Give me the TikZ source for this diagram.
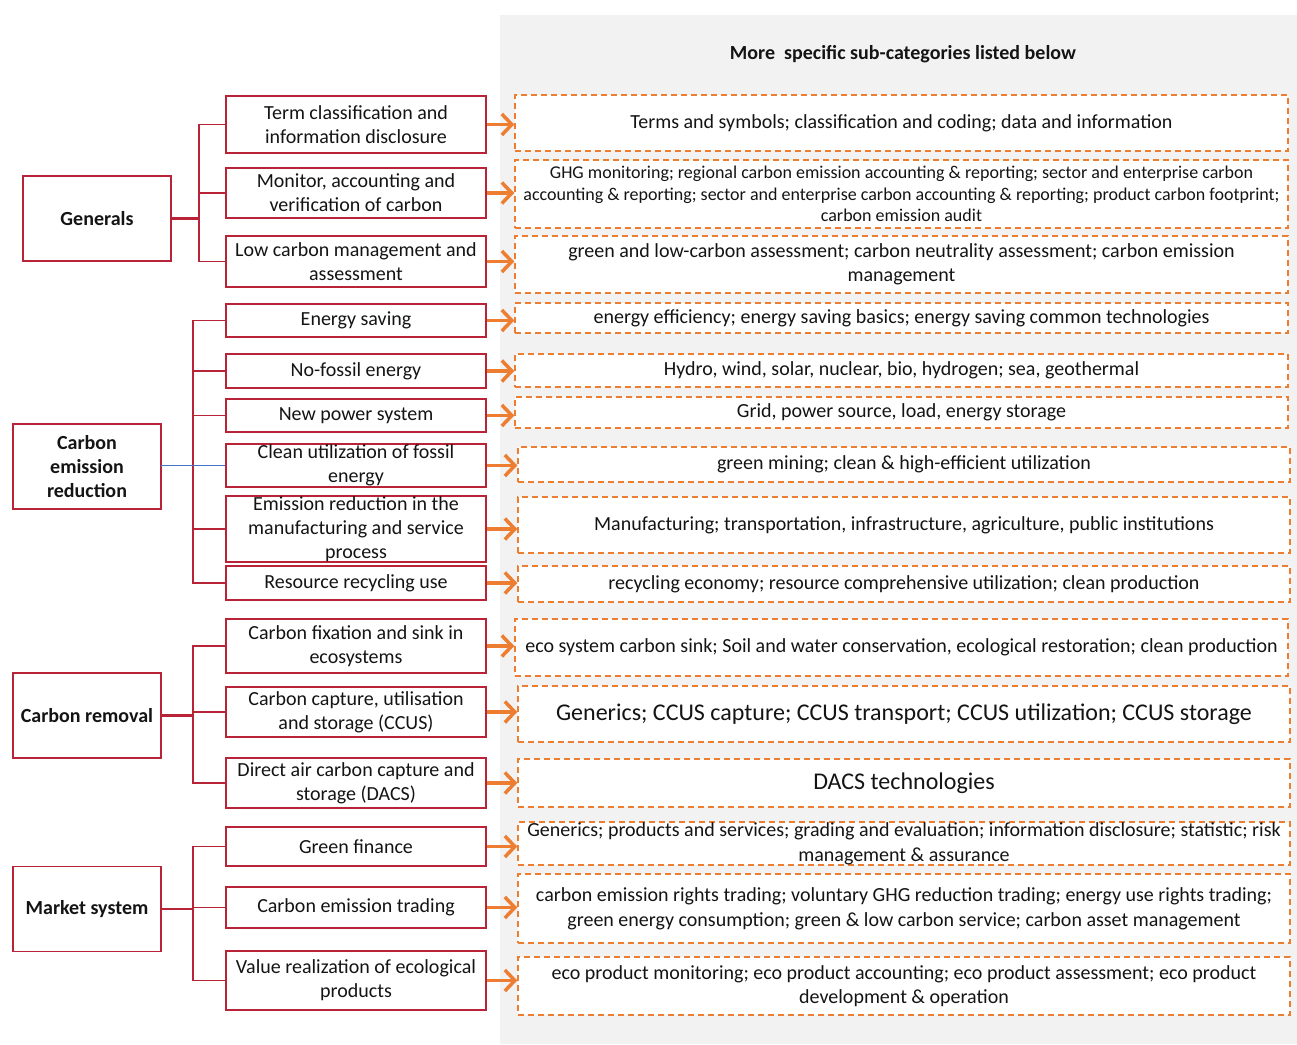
\documentclass[tikz,border=0pt]{standalone}
\usepackage{fontspec}
\setmainfont{Carlito}
\usetikzlibrary{arrows.meta}
\definecolor{boxred}{RGB}{185,35,55}
\definecolor{orng}{RGB}{237,125,49}
\definecolor{bluel}{RGB}{68,114,196}
\definecolor{panel}{RGB}{242,242,242}
\definecolor{txt}{RGB}{20,20,20}
\tikzset{
  mid/.style={draw=boxred, line width=1.6pt, fill=white, align=center, text=txt,
    minimum width=260pt, inner sep=0pt, font=\fontsize{20}{24}\selectfont},
  grp/.style={draw=boxred, line width=1.6pt, fill=white, align=center, text=txt,
    minimum width=148pt, minimum height=85pt, inner sep=0pt, font=\bfseries\fontsize{20}{24}\selectfont},
  sub/.style={draw=orng, dash pattern=on 6pt off 4pt, line width=1.5pt, fill=white,
    align=center, text=txt, inner sep=0pt, font=\fontsize{20}{24.5}\selectfont},
  arr/.style={draw=orng, line width=3.5pt, -{Straight Barb[length=10pt,width=21pt]}},
  link/.style={draw=boxred, line width=1.6pt},
}
\begin{document}
\begin{tikzpicture}[x=1pt,y=-1pt]
\useasboundingbox (0,0) rectangle (1297,1044);
\fill[white] (0,0) rectangle (1297,1044);
\fill[panel] (500,15) rectangle (1297,1044);
\node[font=\bfseries\fontsize{20}{24}\selectfont, text=txt] (hdr) at (903,54) {More\ \ specific sub-categories listed below};

% group boxes
\node[grp] (g1) at (97,218.5) {Generals};
\node[grp] (g2) at (87,466.5) {Carbon\\emission\\reduction};
\node[grp] (g3) at (87,715.5) {Carbon removal};
\node[grp] (g4) at (87,909) {Market system};

% middle boxes
\node[mid, minimum height=57pt] (m1) at (356,124.5) {Term classification and\\information disclosure};
\node[mid, minimum height=50pt] (m2) at (356,193) {Monitor, accounting and\\verification of carbon};
\node[mid, minimum height=51pt] (m3) at (356,261.5) {Low carbon management and\\assessment};
\node[mid, minimum height=33pt] (m4) at (356,320.5) {Energy saving};
\node[mid, minimum height=34pt] (m5) at (356,371) {No-fossil energy};
\node[mid, minimum height=33pt] (m6) at (356,415.5) {New power system};
\node[mid, minimum height=43pt] (m7) at (356,465.5) {Clean utilization of fossil\\energy};
\node[mid, minimum height=66pt] (m8) at (356,529) {Emission reduction in the\\manufacturing and service\\process};
\node[mid, minimum height=34pt] (m9) at (356,583) {Resource recycling use};
\node[mid, minimum height=54pt] (m10) at (356,646) {Carbon fixation and sink in\\ecosystems};
\node[mid, minimum height=50pt] (m11) at (356,712) {Carbon capture, utilisation\\and storage (CCUS)};
\node[mid, minimum height=50pt] (m12) at (356,783) {Direct air carbon capture and\\storage (DACS)};
\node[mid, minimum height=39pt] (m13) at (356,846.5) {Green finance};
\node[mid, minimum height=41pt] (m14) at (356,907.5) {Carbon emission trading};
\node[mid, minimum height=59pt] (m15) at (356,980.5) {Value realization of ecological\\products};

% right boxes
\node[sub, minimum width=773pt, minimum height=56pt] (r1) at (901.5,123) {Terms and symbols; classification and coding; data and information};
\node[sub, minimum width=773pt, minimum height=68pt, font=\fontsize{18}{21.5}\selectfont] (r2) at (901.5,194) {GHG monitoring; regional carbon emission accounting \& reporting; sector and enterprise carbon\\accounting \& reporting; sector and enterprise carbon accounting \& reporting; product carbon footprint;\\carbon emission audit};
\node[sub, minimum width=773pt, minimum height=57pt] (r3) at (901.5,264.5) {green and low-carbon assessment; carbon neutrality assessment; carbon emission\\management};
\node[sub, minimum width=773pt, minimum height=30pt] (r4) at (901.5,318) {energy efficiency; energy saving basics; energy saving common technologies};
\node[sub, minimum width=773pt, minimum height=33pt] (r5) at (901.5,370.5) {Hydro, wind, solar, nuclear, bio, hydrogen; sea, geothermal};
\node[sub, minimum width=773pt, minimum height=31pt] (r6) at (901.5,412.5) {Grid, power source, load, energy storage};
\node[sub, minimum width=772pt, minimum height=35pt] (r7) at (904,464.5) {green mining; clean \& high-efficient utilization};
\node[sub, minimum width=772pt, minimum height=56pt] (r8) at (904,525) {Manufacturing; transportation, infrastructure, agriculture, public institutions};
\node[sub, minimum width=772pt, minimum height=36pt] (r9) at (904,584) {recycling economy; resource comprehensive utilization; clean production};
\node[sub, minimum width=773pt, minimum height=57pt] (r10) at (901.5,647.5) {eco system carbon sink; Soil and water conservation, ecological restoration; clean production};
\node[sub, minimum width=772pt, minimum height=56pt, font=\fontsize{24}{29}\selectfont] (r11) at (904,714) {Generics; CCUS capture; CCUS transport; CCUS utilization; CCUS storage};
\node[sub, minimum width=772pt, minimum height=48pt, font=\fontsize{24}{29}\selectfont] (r12) at (904,783) {DACS technologies};
\node[sub, minimum width=772pt, minimum height=43pt, font=\fontsize{20}{25}\selectfont] (r13) at (904,843.5) {Generics; products and services; grading and evaluation; information disclosure; statistic; risk\\management \& assurance};
\node[sub, minimum width=772pt, minimum height=69pt, font=\fontsize{20}{25}\selectfont] (r14) at (904,908.5) {carbon emission rights trading; voluntary GHG reduction trading; energy use rights trading;\\green energy consumption; green \& low carbon service; carbon asset management};
\node[sub, minimum width=772pt, minimum height=58pt] (r15) at (904,986) {eco product monitoring; eco product accounting; eco product assessment; eco product\\development \& operation};

% trunks
\coordinate (t1) at (199,0);
\coordinate (t2) at (193,0);
\draw[link, line width=2.2pt] (g1.east) -- (g1.east -| t1);
\foreach \m in {m1,m2,m3} \draw[link] (g1.east -| t1) |- (\m.west);
\foreach \m in {m4,m5,m6,m8,m9} \draw[link] (g2.east -| t2) |- (\m.west);
\draw[bluel, line width=1.2pt] (g2.east) -- (m7.west -| g2.east) -- (m7.west);
\draw[link, line width=2.2pt] (g3.east) -- (g3.east -| t2);
\foreach \m in {m10,m11,m12} \draw[link] (g3.east -| t2) |- (\m.west);
\draw[link, line width=2.2pt] (g4.east) -- (g4.east -| t2);
\foreach \m in {m13,m14,m15} \draw[link] (g4.east -| t2) |- (\m.west);

% arrows
\foreach \i in {1,...,15} \draw[arr] (m\i.east) -- (m\i.east -| r\i.west);
\end{tikzpicture}
\end{document}
